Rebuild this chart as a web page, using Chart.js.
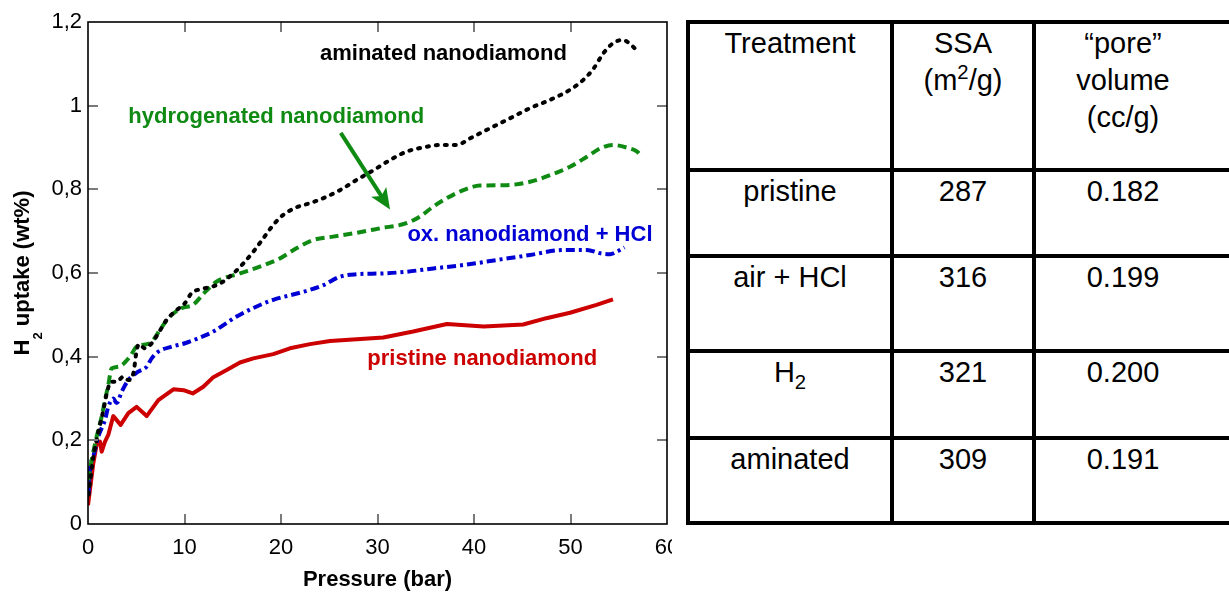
<!DOCTYPE html>
<html>
<head>
<meta charset="utf-8">
<title>H2 uptake of treated nanodiamond</title>
<script src="https://cdn.jsdelivr.net/npm/chart.js@4.4.1/dist/chart.umd.min.js"></script>
<style>
    html, body {
        margin: 0;
        padding: 0;
        background: #fff;
        overflow: hidden;
    }
    body {
        position: relative;
        width: 1229px;
        height: 593px;
        font-family: Arial, "Liberation Sans", sans-serif;
    }
    #plotWrap {
        position: absolute;
        left: 0;
        top: 0;
        width: 672px;
        height: 593px;
        overflow: hidden;
    }
    #uptakeChart {
        display: block;
    }
    .cell {
        position: absolute;
        box-sizing: border-box;
        border: 4px solid #000;
    }
    .cellText {
        position: absolute;
        width: 220px;
        text-align: center;
        font-size: 29px;
        line-height: 37px;
        color: #000;
    }
    .cellText sup, .cellText sub {
        font-size: 0.7em;
        line-height: 0;
    }
</style>
</head>
<body>
<div id="plotWrap">
    <canvas id="uptakeChart" width="700" height="593"></canvas>
</div>
<div id="propsTable"></div>

<script>
// H2 uptake (wt%) vs pressure (bar) for each nanodiamond treatment
const aminatedPressure = [0.05, 0.2, 0.55, 1.07, 1.59, 1.94, 2.38, 2.97, 3.66, 4.18, 4.7, 5.05, 5.28, 5.9, 6.6, 7.29, 8.15, 9.0, 10.05, 10.74, 11.6, 12.82, 13.7, 15.06, 16.1, 17.13, 18.17, 19.2, 20.24, 21.6, 23.0, 24.4, 26.1, 27.8, 29.6, 31.3, 33.0, 34.7, 36.5, 38.2, 39.6, 41.3, 43.4, 45.8, 47.9, 49.95, 51.3, 52.4, 53.4, 54.4, 55.4, 56.3, 57.0];
const aminatedUptake = [0.07, 0.097, 0.161, 0.22, 0.272, 0.312, 0.34, 0.34, 0.352, 0.344, 0.36, 0.416, 0.43, 0.42, 0.432, 0.456, 0.488, 0.508, 0.528, 0.552, 0.561, 0.567, 0.575, 0.599, 0.623, 0.651, 0.683, 0.715, 0.739, 0.757, 0.767, 0.779, 0.798, 0.822, 0.846, 0.87, 0.89, 0.9, 0.906, 0.906, 0.922, 0.942, 0.966, 0.994, 1.014, 1.038, 1.061, 1.089, 1.125, 1.149, 1.157, 1.145, 1.128];

const hydrogenatedPressure = [0.03, 0.38, 0.9, 1.42, 1.76, 2.1, 2.45, 3.14, 4.35, 5.04, 6.42, 7.46, 8.33, 9.7, 10.9, 11.95, 13.3, 15.75, 17.8, 19.9, 21.6, 23.35, 25.4, 27.8, 30.3, 33.0, 34.4, 35.8, 37.2, 38.9, 40.6, 43.4, 45.8, 47.9, 49.95, 51.7, 53.1, 54.4, 55.8, 56.9, 57.4];
const hydrogenatedUptake = [0.105, 0.153, 0.209, 0.257, 0.296, 0.332, 0.372, 0.376, 0.4, 0.424, 0.432, 0.464, 0.492, 0.516, 0.524, 0.55, 0.579, 0.599, 0.615, 0.635, 0.659, 0.679, 0.687, 0.696, 0.707, 0.719, 0.735, 0.759, 0.779, 0.798, 0.809, 0.81, 0.818, 0.834, 0.854, 0.878, 0.898, 0.906, 0.9, 0.89, 0.877];

const oxidizedPressure = [0.05, 0.2, 0.55, 1.07, 1.76, 2.1, 2.62, 2.97, 3.49, 4.18, 5.2, 6.08, 6.6, 7.29, 8.67, 10.05, 11.43, 12.98, 15.4, 17.1, 19.2, 22.0, 24.4, 26.1, 27.8, 30.6, 33.0, 35.8, 38.9, 42.35, 45.8, 49.3, 51.7, 53.1, 54.1, 54.8, 55.6];
const oxidizedUptake = [0.07, 0.129, 0.161, 0.209, 0.249, 0.28, 0.3, 0.289, 0.316, 0.344, 0.364, 0.376, 0.396, 0.412, 0.424, 0.432, 0.444, 0.46, 0.496, 0.516, 0.536, 0.553, 0.571, 0.591, 0.597, 0.599, 0.603, 0.611, 0.619, 0.631, 0.643, 0.655, 0.655, 0.647, 0.645, 0.651, 0.661];

const pristinePressure = [0, 0.55, 0.9, 1.24, 1.42, 1.76, 2.1, 2.62, 3.38, 4.18, 5.04, 6.08, 7.29, 8.85, 9.9, 10.85, 11.95, 12.99, 14.37, 15.75, 17.13, 19.2, 20.93, 23.0, 25.08, 30.6, 33.7, 37.2, 41.0, 45.1, 47.5, 49.95, 52.7, 54.4];
const pristineUptake = [0.045, 0.145, 0.19, 0.197, 0.173, 0.197, 0.213, 0.258, 0.237, 0.265, 0.28, 0.258, 0.296, 0.322, 0.32, 0.312, 0.328, 0.351, 0.368, 0.386, 0.396, 0.406, 0.42, 0.43, 0.4375, 0.446, 0.46, 0.478, 0.472, 0.477, 0.492, 0.505, 0.524, 0.537];

const yTickLabels = ["0", "0,2", "0,4", "0,6", "0,8", "1", "1,2"];

// table beside the plot
const tableHeader = ["Treatment", "SSA<br>(m<sup>2</sup>/g)", "\u201cpore\u201d<br>volume<br>(cc/g)"];
const treatments = ["pristine", "air + HCl", "H<sub>2</sub>", "aminated"];
const ssaValues = ["287", "316", "321", "309"];
const poreVolumes = ["0.182", "0.199", "0.200", "0.191"];

const GREEN = "#0f8a12";
const BLUE = "#0000d4";
const RED = "#cc0000";

// curve names written inside the plot (data coords of text start / baseline)
const curveLabels = [
    { text: "aminated nanodiamond", p: 24.04, v: 1.109, color: "#000" },
    { text: "hydrogenated nanodiamond", p: 4.18, v: 0.958, color: GREEN },
    { text: "ox. nanodiamond + HCl", p: 33.1, v: 0.677, color: BLUE },
    { text: "pristine nanodiamond", p: 28.95, v: 0.38, color: RED },
];
const labelArrow = { from: [26.19, 0.935], to: [31.3, 0.752], color: GREEN };

const toPoints = (xs, ys) => xs.map((x, i) => ({ x: x, y: ys[i] }));

// frame with inward ticks, rotated y title, curve labels and arrow
const plotDecor = {
    id: "plotDecor",
    afterDatasetsDraw(chart) {
        const ctx = chart.ctx;
        const area = chart.chartArea;
        const xs = chart.scales.x;
        const ys = chart.scales.y;
        ctx.save();

        ctx.strokeStyle = "#7a7a7a";
        ctx.lineWidth = 2;
        ctx.beginPath();
        xs.ticks.forEach((t) => {
            const px = Math.round(xs.getPixelForValue(t.value));
            if (px <= area.left + 1 || px >= area.right - 1) return;
            ctx.moveTo(px, area.bottom);
            ctx.lineTo(px, area.bottom - 10);
            ctx.moveTo(px, area.top);
            ctx.lineTo(px, area.top + 10);
        });
        ys.ticks.forEach((t) => {
            const py = Math.round(ys.getPixelForValue(t.value));
            if (py <= area.top + 1 || py >= area.bottom - 1) return;
            ctx.moveTo(area.left, py);
            ctx.lineTo(area.left + 10, py);
            ctx.moveTo(area.right, py);
            ctx.lineTo(area.right - 10, py);
        });
        ctx.stroke();

        ctx.strokeStyle = "#000";
        ctx.lineWidth = 1.6;
        ctx.strokeRect(area.left, area.top, area.right - area.left, area.bottom - area.top);

        // y title: H2 uptake (wt%) with subscript 2
        const big = 'bold 22px Arial, "Liberation Sans", sans-serif';
        const small = 'bold 13px Arial, "Liberation Sans", sans-serif';
        ctx.fillStyle = "#000";
        ctx.textBaseline = "alphabetic";
        ctx.textAlign = "left";
        ctx.font = big;
        const wH = ctx.measureText("H").width;
        const wRest = ctx.measureText(" uptake (wt%)").width;
        ctx.font = small;
        const w2 = ctx.measureText("2").width;
        const total = wH + w2 + wRest;
        ctx.save();
        ctx.translate(29, (area.top + area.bottom) / 2);
        ctx.rotate(-Math.PI / 2);
        let tx = -total / 2;
        ctx.font = big;
        ctx.fillText("H", tx, 0);
        tx += wH;
        ctx.font = small;
        ctx.fillText("2", tx, 13);
        tx += w2;
        ctx.font = big;
        ctx.fillText(" uptake (wt%)", tx, 0);
        ctx.restore();

        // curve names
        ctx.font = big;
        curveLabels.forEach((l) => {
            ctx.fillStyle = l.color;
            ctx.fillText(l.text, xs.getPixelForValue(l.p), ys.getPixelForValue(l.v));
        });

        // arrow from the hydrogenated label to its curve
        const x0 = xs.getPixelForValue(labelArrow.from[0]);
        const y0 = ys.getPixelForValue(labelArrow.from[1]);
        const x1 = xs.getPixelForValue(labelArrow.to[0]);
        const y1 = ys.getPixelForValue(labelArrow.to[1]);
        const ang = Math.atan2(y1 - y0, x1 - x0);
        const c = Math.cos(ang);
        const s = Math.sin(ang);
        const head = 21;
        const half = 9;
        const bx = x1 - head * c;
        const by = y1 - head * s;
        ctx.strokeStyle = labelArrow.color;
        ctx.fillStyle = labelArrow.color;
        ctx.lineWidth = 4;
        ctx.beginPath();
        ctx.moveTo(x0, y0);
        ctx.lineTo(bx + 6 * c, by + 6 * s);
        ctx.stroke();
        ctx.beginPath();
        ctx.moveTo(x1, y1);
        ctx.lineTo(bx - half * s, by + half * c);
        ctx.lineTo(bx + 5 * c, by + 5 * s);
        ctx.lineTo(bx + half * s, by - half * c);
        ctx.closePath();
        ctx.fill();

        ctx.restore();
    },
};

Chart.defaults.font.family = 'Arial, "Liberation Sans", sans-serif';
Chart.defaults.color = "#000";

const uptakeCtx = document.getElementById("uptakeChart").getContext("2d");
new Chart(uptakeCtx, {
    type: "line",
    data: {
        datasets: [
            {
                label: "aminated nanodiamond",
                data: toPoints(aminatedPressure, aminatedUptake),
                borderColor: "#000",
                borderWidth: 4,
                borderDash: [2, 7],
                borderCapStyle: "round",
                cubicInterpolationMode: "monotone",
            },
            {
                label: "hydrogenated nanodiamond",
                data: toPoints(hydrogenatedPressure, hydrogenatedUptake),
                borderColor: GREEN,
                borderWidth: 4,
                borderDash: [9, 5],
                cubicInterpolationMode: "monotone",
            },
            {
                label: "ox. nanodiamond + HCl",
                data: toPoints(oxidizedPressure, oxidizedUptake),
                borderColor: BLUE,
                borderWidth: 4,
                borderDash: [9, 4, 3, 4],
                cubicInterpolationMode: "monotone",
            },
            {
                label: "pristine nanodiamond",
                data: toPoints(pristinePressure, pristineUptake),
                borderColor: RED,
                borderWidth: 4,
                tension: 0,
            },
        ],
    },
    options: {
        responsive: false,
        animation: false,
        parsing: false,
        layout: {
            padding: { top: 22, right: 33, bottom: 0, left: 0 },
        },
        elements: {
            point: { radius: 0 },
            line: { fill: false, borderJoinStyle: "round" },
        },
        plugins: {
            legend: { display: false },
            tooltip: { enabled: false },
        },
        scales: {
            x: {
                type: "linear",
                min: 0,
                max: 60,
                grid: { display: false, drawTicks: false },
                border: { display: false },
                ticks: {
                    stepSize: 10,
                    padding: 11,
                    maxRotation: 0,
                    font: { size: 22 },
                },
                title: {
                    display: true,
                    text: "Pressure (bar)",
                    font: { size: 22, weight: "bold" },
                    padding: { top: 0, bottom: 0 },
                },
                afterFit: (scale) => {
                    scale.height = 69;
                },
            },
            y: {
                type: "linear",
                min: 0,
                max: 1.2,
                grid: { display: false, drawTicks: false },
                border: { display: false },
                ticks: {
                    stepSize: 0.2,
                    padding: 6,
                    font: { size: 22 },
                    callback: (value) => yTickLabels[Math.round(value / 0.2)],
                },
                afterFit: (scale) => {
                    scale.width = 88;
                },
            },
        },
    },
    plugins: [plotDecor],
});

// property table: grid lines at these pixel positions
const colLines = [688, 892, 1034, 1262];
const rowLines = [22, 170, 256, 351, 438, 523];
const textCenters = [790, 963, 1123];

const tableEl = document.getElementById("propsTable");
const rows = [tableHeader].concat(
    treatments.map((t, i) => [t, ssaValues[i], poreVolumes[i]])
);
rows.forEach((row, r) => {
    row.forEach((html, c) => {
        const cell = document.createElement("div");
        cell.className = "cell";
        cell.style.left = colLines[c] - 2 + "px";
        cell.style.top = rowLines[r] - 2 + "px";
        cell.style.width = colLines[c + 1] - colLines[c] + 4 + "px";
        cell.style.height = rowLines[r + 1] - rowLines[r] + 4 + "px";
        tableEl.appendChild(cell);

        const txt = document.createElement("div");
        txt.className = "cellText";
        txt.innerHTML = html;
        txt.style.left = textCenters[c] - 110 + "px";
        txt.style.top = rowLines[r] + 2.5 + "px";
        tableEl.appendChild(txt);
    });
});
</script>
</body>
</html>
